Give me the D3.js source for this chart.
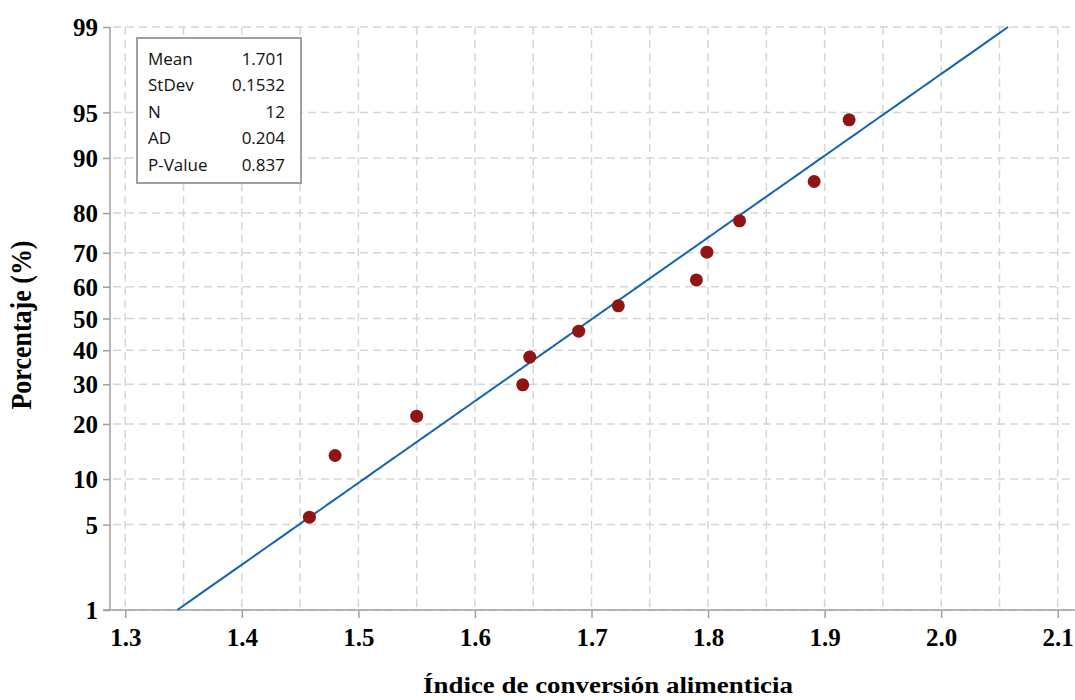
<!DOCTYPE html>
<html>
<head>
<meta charset="utf-8">
<script src="https://cdn.jsdelivr.net/npm/d3@7"></script>
<style>
  html, body { margin: 0; padding: 0; background: #fff; }
  svg { display: block; }
</style>
</head>
<body>
<svg id="chart" width="1075" height="700"></svg>
<script>
// Feed conversion index, 12 observations (sorted)
const values = [1.458, 1.480, 1.550, 1.641, 1.647, 1.689, 1.723, 1.790, 1.799, 1.827, 1.891, 1.921];
// Fitted normal parameters shown in the summary box
const statLabels = ["Mean", "StDev", "N", "AD", "P-Value"];
const statValues = ["1.701", "0.1532", "12", "0.204", "0.837"];
const fitMean = 1.701;
const fitSd = 0.1532;
// Axis ticks
const xTicks = [1.3, 1.4, 1.5, 1.6, 1.7, 1.8, 1.9, 2.0, 2.1];
const xGrid = [1.3, 1.35, 1.4, 1.45, 1.5, 1.55, 1.6, 1.65, 1.7, 1.75, 1.8, 1.85, 1.9, 1.95, 2.0, 2.05, 2.1];
const yTicks = [1, 5, 10, 20, 30, 40, 50, 60, 70, 80, 90, 95, 99];

// Inverse standard normal CDF (Acklam's rational approximation)
function probit(p) {
  const a = [-3.969683028665376e+01, 2.209460984245205e+02, -2.759285104469687e+02,
             1.383577518672690e+02, -3.066479806614716e+01, 2.506628277459239e+00];
  const b = [-5.447609879822406e+01, 1.615858368580409e+02, -1.556989798598866e+02,
             6.680131188771972e+01, -1.328068155288572e+01];
  const c = [-7.784894002430293e-03, -3.223964580411365e-01, -2.400758277161838e+00,
             -2.549671010322563e+00, 4.374664141464968e+00, 2.938163982698783e+00];
  const d = [7.784695709041462e-03, 3.224671290700398e-01, 2.445134137625614e+00,
             3.754408661907416e+00];
  const pl = 0.02425, ph = 1 - pl;
  let q, r;
  if (p < pl) {
    q = Math.sqrt(-2 * Math.log(p));
    return (((((c[0]*q+c[1])*q+c[2])*q+c[3])*q+c[4])*q+c[5]) /
           ((((d[0]*q+d[1])*q+d[2])*q+d[3])*q+1);
  } else if (p <= ph) {
    q = p - 0.5; r = q * q;
    return (((((a[0]*r+a[1])*r+a[2])*r+a[3])*r+a[4])*r+a[5])*q /
           (((((b[0]*r+b[1])*r+b[2])*r+b[3])*r+b[4])*r+1);
  } else {
    q = Math.sqrt(-2 * Math.log(1 - p));
    return -(((((c[0]*q+c[1])*q+c[2])*q+c[3])*q+c[4])*q+c[5]) /
            ((((d[0]*q+d[1])*q+d[2])*q+d[3])*q+1);
  }
}

// Probability-paper scale: percent -> pixel, linear in the normal quantile
function probScale(zs) {
  const s = pct => zs(probit(pct / 100));
  s.domain = () => [1, 99];
  s.range = () => zs.range();
  s.copy = () => probScale(zs.copy());
  s.ticks = () => yTicks;
  s.tickFormat = () => (d => String(d));
  return s;
}

const svg = d3.select("#chart");
const plotL = 110, plotR = 1075, plotT = 27, plotB = 610;

const x = d3.scaleLinear().domain([1.2869, 2.1148]).range([plotL, plotR]);
const zScale = d3.scaleLinear().domain([probit(0.01), probit(0.99)]).range([plotB, plotT]);
const y = probScale(zScale);

const gridColor = "#d6d6d6";
const axisColor = "#a0a0a0";
const serif = "'Liberation Serif', 'Times New Roman', serif";

// Grid
const grid = svg.append("g");
grid.selectAll("line.v").data(xGrid).join("line").attr("class", "v")
  .attr("x1", d => x(d)).attr("x2", d => x(d))
  .attr("y1", plotT).attr("y2", plotB)
  .attr("stroke", gridColor).attr("stroke-width", 1.5).attr("stroke-dasharray", "8,5");
grid.selectAll("line.h").data(yTicks).join("line").attr("class", "h")
  .attr("x1", plotL + 3).attr("x2", plotR)
  .attr("y1", d => y(d)).attr("y2", d => y(d))
  .attr("stroke", gridColor).attr("stroke-width", 1.5).attr("stroke-dasharray", "8,5");

// Axes
const yAxisG = svg.append("g").attr("transform", `translate(${plotL},0)`)
  .call(d3.axisLeft(y).tickValues(yTicks).tickSize(7).tickPadding(5).tickFormat(d => d));
yAxisG.select(".domain").attr("d", `M0,${plotT}V${plotB}`);

const xAxisG = svg.append("g").attr("transform", `translate(0,${plotB})`)
  .call(d3.axisBottom(x).tickValues(xTicks).tickSize(8).tickPadding(5).tickFormat(d3.format(".1f")));
xAxisG.select(".domain").attr("d", `M${plotL - 7},0H${plotR}`);

[yAxisG, xAxisG].forEach(g => {
  g.select(".domain").attr("stroke", axisColor).attr("stroke-width", 1.5);
  g.selectAll(".tick line").attr("stroke", axisColor).attr("stroke-width", 1.5);
  g.selectAll(".tick text")
    .attr("font-family", serif).attr("font-weight", "bold")
    .attr("font-size", 25).attr("fill", "#000");
});
yAxisG.selectAll(".tick text").attr("dy", "0.35em");
xAxisG.selectAll(".tick text").attr("dy", "0.92em");

// Fitted normal line
const fitP = d3.range(1, 99.01, 0.25);
svg.append("path")
  .datum(fitP)
  .attr("fill", "none")
  .attr("stroke", "#1565b0")
  .attr("stroke-width", 2)
  .attr("d", d3.line().x(p => x(fitMean + fitSd * probit(p / 100))).y(p => y(p)));

// Points at median ranks (i - 0.3) / (n + 0.4)
const n = values.length;
svg.append("g").selectAll("circle").data(values).join("circle")
  .attr("cx", d => x(d))
  .attr("cy", (d, i) => y(100 * (i + 1 - 0.3) / (n + 0.4)))
  .attr("r", 6.5)
  .attr("fill", "#8f1414");

// Summary box
const box = svg.append("g");
box.append("rect").attr("x", 137).attr("y", 38).attr("width", 164).attr("height", 145)
  .attr("fill", "#fff").attr("stroke", "#a0a0a0").attr("stroke-width", 2);
const rowY = d3.scalePoint().domain(statLabels).range([59, 165]);
box.selectAll("text.lab").data(statLabels).join("text").attr("class", "lab")
  .attr("x", 148).attr("y", d => rowY(d)).attr("dy", "0.35em")
  .attr("font-family", "'Open Sans', sans-serif").attr("font-size", 17).attr("fill", "#111")
  .text(d => d);
box.selectAll("text.val").data(statValues).join("text").attr("class", "val")
  .attr("x", 285).attr("y", (d, i) => rowY(statLabels[i])).attr("dy", "0.35em")
  .attr("text-anchor", "end")
  .attr("font-family", "'Open Sans', sans-serif").attr("font-size", 17).attr("fill", "#111")
  .text(d => d);

// Axis titles
svg.append("text")
  .attr("x", 608).attr("y", 693).attr("text-anchor", "middle")
  .attr("font-family", serif).attr("font-weight", "bold").attr("font-size", 23)
  .attr("textLength", 370).attr("lengthAdjust", "spacingAndGlyphs")
  .text("Índice de conversión alimenticia");
svg.append("text")
  .attr("transform", "translate(31,325) rotate(-90) scale(1,1.15)").attr("text-anchor", "middle")
  .attr("font-family", serif).attr("font-weight", "bold").attr("font-size", 26)
  .text("Porcentaje (%)");
</script>
</body>
</html>
